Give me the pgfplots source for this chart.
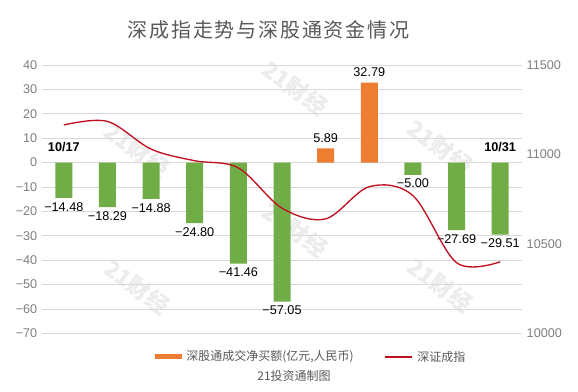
\documentclass[border=0pt]{standalone}
\usepackage{pgfplots}
\pgfplotsset{compat=1.18}
\usepackage{fontspec}
\setmainfont{Liberation Sans}
\newfontfamily\cjk{Noto Sans CJK SC}
\newfontfamily\cjktitle{Noto Sans CJK SC}[LetterSpace=9]
\definecolor{bargreen}{RGB}{112,173,71}
\definecolor{barorange}{RGB}{237,125,49}
\definecolor{linered}{RGB}{192,16,32}
\definecolor{gridc}{RGB}{217,217,217}
\definecolor{tickc}{RGB}{128,128,128}
\definecolor{titlec}{RGB}{89,89,89}
\definecolor{wm}{RGB}{236,236,236}

\pgfplotstableread{
x y label
0 -14.48 −14.48
1 -18.29 −18.29
2 -14.88 −14.88
3 -24.80 −24.80
4 -41.46 −41.46
5 -57.05 −57.05
8 -5.00 −5.00
9 -27.69 −27.69
10 -29.51 −29.51
}\negdata
\pgfplotstableread{
x y label
6 5.89 5.89
7 32.79 32.79
}\posdata
\pgfplotstableread{
x y
0 11165
1 11185
2 11030
3 10965
4 10925
5 10700
6 10640
7 10820
8 10770
9 10395
10 10400
}\linedata

\begin{document}
\begin{tikzpicture}[x=0.75pt,y=0.75pt]
\useasboundingbox (0,0) rectangle (578,392);
\fill[white] (0,0) rectangle (578,392);
\foreach \p in {(137,242),(137,105),(295,304),(295,162),(440,245),(440,107)}{
  \node[rotate=-36,text=wm,font=\cjk\bfseries\fontsize{17}{17}\selectfont] at \p {21财经};
}
\node[font=\cjktitle\fontsize{15}{16}\selectfont,text=titlec] at (268.5,362) {深成指走势与深股通资金情况};

\begin{axis}[
  at={(31.5pt,44pt)}, anchor=south west,
  scale only axis, width=360pt, height=201.2pt,
  xmin=-0.5, xmax=10.5, ymin=-70, ymax=40,
  xtick=\empty,
  ytick={-70,-60,...,40},
  yticklabels={−70,−60,−50,−40,−30,−20,−10,0,10,20,30,40},
  yticklabel style={font=\fontsize{9.5}{10}\selectfont,text=tickc},
  axis line style={draw=none},
  tick style={draw=none},
  ymajorgrids, grid style={gridc,line width=0.6pt},
  ybar, bar width=12.75pt, bar shift=0pt,
  clip=false,
]
\addplot[fill=bargreen,draw=none,
  point meta=explicit symbolic,
  nodes near coords,
  nodes near coords style={anchor=north,font=\fontsize{9.5}{10}\selectfont,text=black,inner sep=2pt,yshift=-1pt}]
  table[x=x,y=y,meta=label]{\negdata};
\addplot[fill=barorange,draw=none,
  point meta=explicit symbolic,
  nodes near coords,
  nodes near coords style={anchor=south,font=\fontsize{9.5}{10}\selectfont,text=black,inner sep=2pt,yshift=2pt}]
  table[x=x,y=y,meta=label]{\posdata};
\node[font=\bfseries\fontsize{9.5}{10}\selectfont,anchor=south] at (axis cs:0,2.5) {10/17};
\node[font=\bfseries\fontsize{9.5}{10}\selectfont,anchor=south] at (axis cs:10,2.5) {10/31};
\end{axis}

\begin{axis}[
  at={(31.5pt,44pt)}, anchor=south west,
  scale only axis, width=360pt, height=201.2pt,
  xmin=-0.5, xmax=10.5, ymin=10000, ymax=11500,
  axis y line*=right, axis x line=none,
  scaled y ticks=false,
  ytick={10000,10500,11000,11500},
  yticklabels={10000,10500,11000,11500},
  yticklabel style={font=\fontsize{9.5}{10}\selectfont,text=tickc},
  axis line style={draw=none},
  tick style={draw=none},
]
\addplot[linered,line width=1pt,smooth,tension=0.55,mark=none] table[x=x,y=y]{\linedata};
\end{axis}

% legend
\fill[barorange] (155,32.5) rectangle (182,37.5);
\node[anchor=west,font=\cjk\fontsize{9}{10}\selectfont,text=titlec,inner sep=0pt] at (186,35) {深股通成交净买额(亿元,人民币)};
\draw[linered,line width=1pt] (385,35) -- (412,35);
\node[anchor=west,font=\cjk\fontsize{9}{10}\selectfont,text=titlec,inner sep=0pt] at (417,35) {深证成指};
\node[font=\cjk\fontsize{9}{10}\selectfont,text=titlec] at (294,16) {21投资通制图};
\end{tikzpicture}
\end{document}
